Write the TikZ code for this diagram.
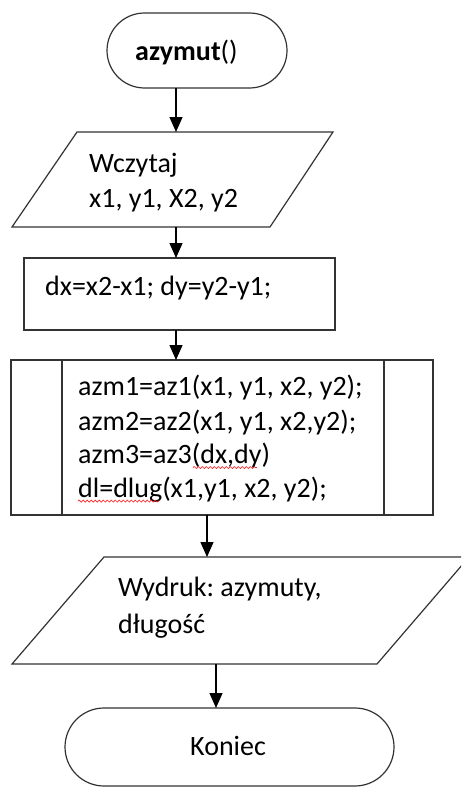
\documentclass[tikz,border=0pt]{standalone}
\usepackage{fontspec}
\setmainfont{Carlito}
\frenchspacing
\usetikzlibrary{arrows.meta,decorations.pathmorphing}
\begin{document}
\begin{tikzpicture}[x=1pt,y=-1pt,
  shapeline/.style={draw=black!80,line width=1.2pt},
  arr/.style={draw=black,line width=1.4pt,-{Triangle[length=15pt,width=13pt]}},
  txt/.style={anchor=base west,inner sep=0pt,font=\fontsize{28}{34}\selectfont\frenchspacing},
  box/.style={inner sep=0pt,outer sep=0pt},
  squiggle/.style={draw=red!85!white,line width=0.7pt,decorate,decoration={snake,segment length=4pt,amplitude=1pt}}]
\useasboundingbox (0,0) rectangle (461,787);
\clip (0,0) rectangle (461,787);
\fill[white] (0,0) rectangle (461,787);
% start terminal
\node[box,shapeline,rounded corners=37.5pt,minimum width=180pt,minimum height=75pt] (start) at (197,50.5) {};
\node[txt] (starttxt) at (135,60) {\textbf{azymut}()};
% input parallelogram
\node[box,minimum width=321pt,minimum height=95pt] (in1) at (172.5,179.5) {};
\draw[shapeline] (77,132) -- (333,132) -- (270,227) -- (12,227) -- cycle;
\node[txt] (in1a) at (89,172) {Wczytaj};
\node[txt] (in1b) at (89,207) {x1, y1, X2, y2};
% process
\node[box,shapeline,minimum width=311pt,minimum height=72pt] (calc) at (179.5,294) {};
\node[txt] (calctxt) at (45,295) {dx=x2-x1; dy=y2-y1;};
% predefined process
\node[box,shapeline,minimum width=422pt,minimum height=155pt] (proc) at (222,437.5) {};
\draw[shapeline] (62,360) -- (62,515);
\draw[shapeline] (384,360) -- (384,515);
\node[txt] (p1) at (78,395) {azm1=az1(x1, y1, x2, y2);};
\node[txt] (p2) at (78,430) {azm2=az2(x1, y1, x2,y2);};
\node[txt] (p3) at (78,463) {azm3=az3(dx,dy)};
\node[txt] (p4) at (78,497) {dl=dlug(x1,y1, x2, y2);};
\draw[squiggle] (193,467.5) -- (257,467.5);
\draw[squiggle] (78,501) -- (159,501);
% output parallelogram
\node[box,minimum width=457pt,minimum height=107pt] (out) at (240.5,610.5) {};
\draw[shapeline] (104,557) -- (469,557) -- (377,664) -- (12,664) -- cycle;
\node[txt] (outa) at (118,596) {Wydruk: azymuty,};
\node[txt] (outb) at (118,633) {długość};
% end terminal
\node[box,shapeline,rounded corners=39pt,minimum width=329pt,minimum height=78pt] (stop) at (229.5,747) {};
\node[txt] (stoptxt) at (190,755) {Koniec};
% connectors
\coordinate (c1) at (176,0);
\coordinate (c2) at (207,0);
\coordinate (c3) at (216,0);
\draw[arr] (start.south -| c1) -- (in1.north -| c1);
\draw[arr] (in1.south -| c1) -- (calc.north -| c1);
\draw[arr] (calc.south -| c1) -- (proc.north -| c1);
\draw[arr] (proc.south -| c2) -- (out.north -| c2);
\draw[arr] (out.south -| c3) -- (stop.north -| c3);
\end{tikzpicture}
\end{document}
